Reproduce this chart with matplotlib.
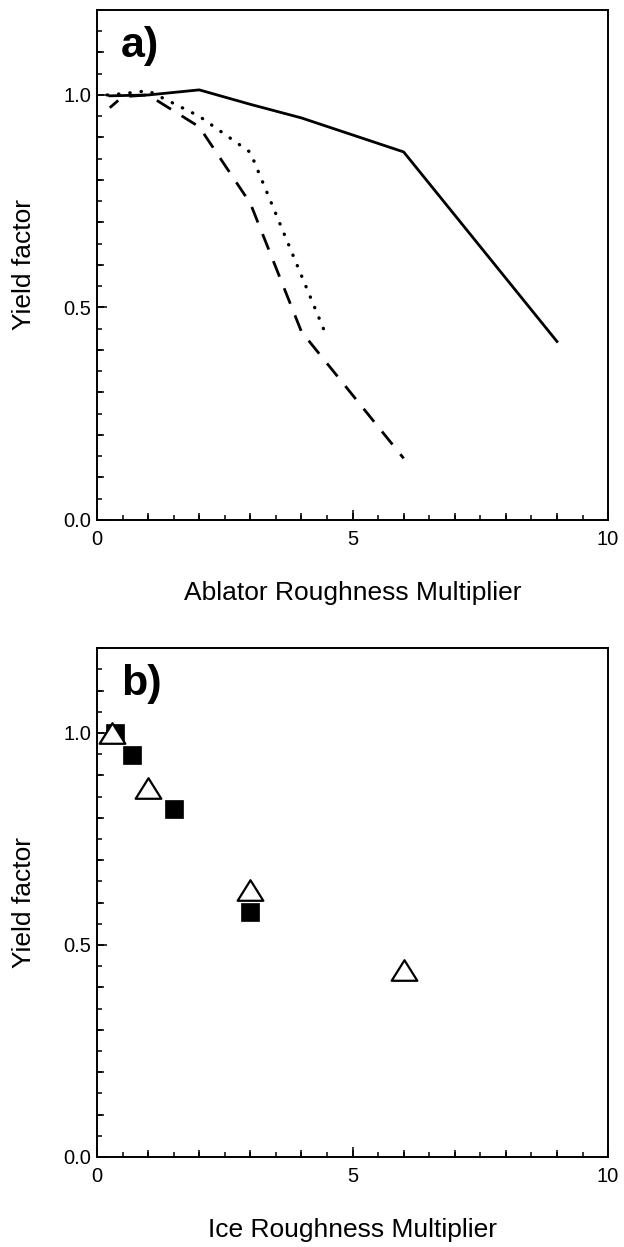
import numpy as np
import matplotlib
matplotlib.use("Agg")
import matplotlib.pyplot as plt
from matplotlib.path import Path

plt.rcParams['font.family'] = ['Liberation Sans', 'DejaVu Sans']

# panel a) yield factor vs ablator roughness multiplier
solid_x = [0.25, 1, 2, 3, 4, 6, 9]
solid_y = [0.998, 1.0, 1.012, 0.978, 0.946, 0.866, 0.42]
dashed_x = [0.25, 0.5, 1, 2, 3, 4, 6]
dashed_y = [0.97, 0.996, 1.0, 0.925, 0.745, 0.443, 0.145]
dotted_x = [0.2, 0.5, 1, 2, 3, 4.5]
dotted_y = [1.0, 1.003, 1.01, 0.95, 0.865, 0.43]

# panel b) yield factor vs ice roughness multiplier
tri_x = [0.3, 1.0, 3.0, 6.0]
tri_y = [1.0, 0.87, 0.63, 0.44]
sq_x = [0.35, 0.68, 1.5, 3.0]
sq_y = [1.0, 0.948, 0.82, 0.577]

xlabels = ["Ablator Roughness Multiplier", "Ice Roughness Multiplier"]
panel_tags = ["a)", "b)"]

# wide open triangle
tri_marker = Path([(-1.25, -1), (1.25, -1), (0, 1), (-1.25, -1)],
                  [Path.MOVETO, Path.LINETO, Path.LINETO, Path.CLOSEPOLY])


def style_axis(ax, xlabel, tag):
    ax.set_xlim(0, 10)
    ax.set_ylim(0, 1.2)
    ax.set_xticks([0, 5, 10])
    ax.set_xticklabels(["0", "5", "10"])
    ax.set_yticks([0, 0.5, 1.0])
    ax.set_yticklabels(["0.0", "0.5", "1.0"])
    ax.set_xticks(np.arange(0, 10.01, 0.5), minor=True)
    ax.set_yticks(np.arange(0, 1.201, 0.05), minor=True)
    ax.tick_params(which='major', direction='in', length=7.2, width=1.1,
                   labelsize=14.5, top=False, right=False)
    ax.tick_params(axis='x', which='major', pad=7)
    ax.tick_params(axis='y', which='major', pad=4)
    ax.tick_params(which='minor', direction='in', length=3.3, width=1.1,
                   top=False, right=False)
    for s in ax.spines.values():
        s.set_linewidth(1.4)

    # middle level ticks (every 1 on x, every 0.1 on y)
    sx = ax.secondary_xaxis('bottom')
    sx.set_xticks(np.arange(0, 10.01, 1))
    sx.tick_params(direction='in', length=5, width=1.1, labelbottom=False)
    sx.spines['bottom'].set_visible(False)
    sy = ax.secondary_yaxis('left')
    sy.set_yticks(np.arange(0, 1.201, 0.1))
    sy.tick_params(direction='in', length=5, width=1.1, labelleft=False)
    sy.spines['left'].set_visible(False)

    ax.set_xlabel(xlabel, fontsize=19)
    ax.set_ylabel("Yield factor", fontsize=19)
    ax.xaxis.set_label_coords(0.5, -0.12)
    ax.yaxis.set_label_coords(-0.12, 0.5)
    ax.text(0.047, 0.908, tag, transform=ax.transAxes, fontsize=31,
            fontweight='bold', va='baseline', ha='left')


fig = plt.figure(figsize=(6.24, 12.47), dpi=100)
ax1 = fig.add_axes([0.1555, 0.583, 0.819, 0.409])
ax2 = fig.add_axes([0.1555, 0.0722, 0.819, 0.408])

ax1.plot(solid_x, solid_y, color='black', lw=2)
ax1.plot(dashed_x, dashed_y, color='black', lw=2, linestyle=(2, (6, 4.5)))
ax1.plot(dotted_x, dotted_y, color='black', lw=2.4, linestyle=(0, (0.1, 3.3)),
         dash_capstyle='round')
style_axis(ax1, xlabels[0], panel_tags[0])

ax2.plot(sq_x, sq_y, linestyle='none', marker='s', ms=12.5, mfc='black',
         mec='black', mew=0.5, zorder=3)
ax2.plot(tri_x, tri_y, linestyle='none', marker=tri_marker, ms=18.5,
         mfc='white', mec='black', mew=1.6, zorder=4)
style_axis(ax2, xlabels[1], panel_tags[1])

fig.savefig("out.png", dpi=100)
